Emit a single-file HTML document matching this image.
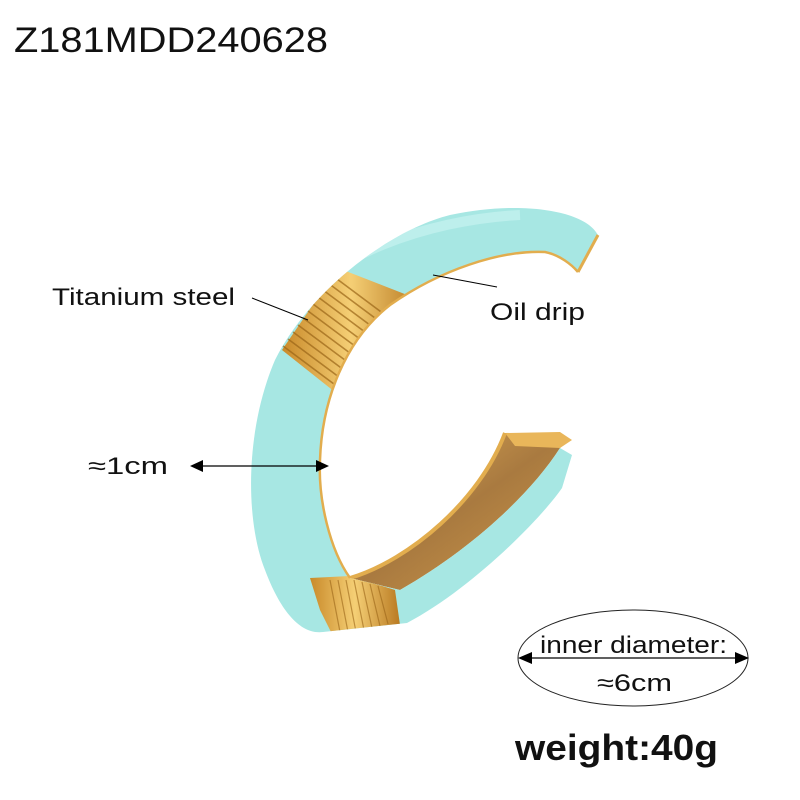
<!DOCTYPE html>
<html><head><meta charset="utf-8"><style>
html,body{margin:0;padding:0;background:#fff;}
svg{display:block;}
text{font-family:"Liberation Sans","DejaVu Sans",sans-serif;fill:#111;}
</style></head><body>
<svg width="800" height="800" viewBox="0 0 800 800" xmlns="http://www.w3.org/2000/svg">
<defs>
<linearGradient id="g1" x1="0" y1="0" x2="1" y2="0">
<stop offset="0" stop-color="#c98a2a"/><stop offset="0.5" stop-color="#f5cf75"/><stop offset="1" stop-color="#b97a22"/>
</linearGradient>
<linearGradient id="gin" x1="0" y1="0" x2="1" y2="1">
<stop offset="0" stop-color="#e0ad58"/><stop offset="0.5" stop-color="#a97a40"/><stop offset="1" stop-color="#d09a48"/>
</linearGradient>
<clipPath id="band">
<path d="M598,235 C585,210 520,200 450,215 C390,230 310,290 275,360 C245,430 245,520 265,570 C280,610 300,635 323,632 L407,623 C470,590 540,520 562,488 L572,455 L560,448 C530,495 470,550 400,590 L350,578 C330,550 318,500 320,460 C322,400 345,340 390,305 C440,270 500,250 545,252 C560,255 572,265 578,272 Z"/>
</clipPath>
</defs>
<text x="14" y="52" font-size="35" textLength="314" lengthAdjust="spacingAndGlyphs">Z181MDD240628</text>

<path d="M350,578 C410,560 480,500 505,433 L568,440 L560,448 C530,495 470,550 400,590 Z" fill="url(#gin)"/>
<path d="M505,433 L560,432 L572,440 L560,448 L515,446 Z" fill="#e9b65a"/>
<path d="M350,578 C410,560 480,500 505,433" stroke="#e2ad4e" stroke-width="4" fill="none"/>

<g clip-path="url(#band)">
<rect x="200" y="180" width="420" height="480" fill="#a7e7e3"/>
<path d="M300,300 C330,260 420,220 520,215" stroke="#c6f2ef" stroke-width="10" fill="none" opacity="0.7"/>
<path d="M338,268 L282,350 L345,400 L420,300 Z" fill="url(#g1)"/>
<g stroke="#9a6518" stroke-width="1.6" opacity="0.7">
<line x1="333" y1="276" x2="400" y2="326"/><line x1="328" y1="283" x2="395" y2="333"/>
<line x1="323" y1="290" x2="390" y2="340"/><line x1="318" y1="297" x2="385" y2="347"/>
<line x1="313" y1="304" x2="380" y2="354"/><line x1="308" y1="311" x2="375" y2="361"/>
<line x1="303" y1="318" x2="370" y2="368"/><line x1="298" y1="325" x2="365" y2="375"/>
<line x1="293" y1="332" x2="360" y2="382"/><line x1="288" y1="339" x2="355" y2="389"/>
<line x1="283" y1="346" x2="350" y2="396"/>
</g>
<path d="M310,578 L350,576 L395,590 L400,625 L335,640 L320,610 Z" fill="url(#g1)"/>
<g stroke="#9a6518" stroke-width="1.2" opacity="0.6">
<line x1="330" y1="580" x2="340" y2="632"/><line x1="338" y1="580" x2="348" y2="632"/>
<line x1="346" y1="580" x2="356" y2="632"/><line x1="354" y1="580" x2="364" y2="630"/>
<line x1="362" y1="582" x2="372" y2="628"/><line x1="370" y1="584" x2="380" y2="626"/>
<line x1="378" y1="586" x2="388" y2="624"/>
</g>
</g>
<path d="M350,578 C330,550 318,500 320,460 C322,400 345,340 390,305 C440,270 500,250 545,252 C560,255 572,265 578,272" stroke="#e2ad4e" stroke-width="2.5" fill="none"/>
<path d="M578,272 L598,235" stroke="#e2ad4e" stroke-width="3" fill="none"/>

<text x="52" y="305" font-size="24" textLength="183" lengthAdjust="spacingAndGlyphs">Titanium steel</text>
<line x1="252" y1="298" x2="308" y2="320" stroke="#000" stroke-width="1"/>
<text x="490" y="320" font-size="24" textLength="95" lengthAdjust="spacingAndGlyphs">Oil drip</text>
<line x1="433" y1="275" x2="497" y2="287" stroke="#000" stroke-width="1"/>
<text x="88" y="474" font-size="24" textLength="80" lengthAdjust="spacingAndGlyphs">≈1cm</text>
<line x1="200" y1="466" x2="318" y2="466" stroke="#000" stroke-width="1.3"/>
<polygon points="190,466 203,460 203,472" fill="#000"/>
<polygon points="329,466 316,460 316,472" fill="#000"/>

<ellipse cx="633" cy="658" rx="115" ry="48" fill="none" stroke="#222" stroke-width="1"/>
<line x1="528" y1="658" x2="738" y2="658" stroke="#000" stroke-width="1.3"/>
<polygon points="518,658 532,652 532,664" fill="#000"/>
<polygon points="749,658 735,652 735,664" fill="#000"/>
<text x="540" y="653" font-size="24" textLength="187" lengthAdjust="spacingAndGlyphs">inner diameter:</text>
<text x="597" y="691" font-size="24" textLength="75" lengthAdjust="spacingAndGlyphs">≈6cm</text>
<text x="515" y="760" font-size="36" font-weight="bold" textLength="203" lengthAdjust="spacingAndGlyphs">weight:40g</text>
</svg>
</body></html>
